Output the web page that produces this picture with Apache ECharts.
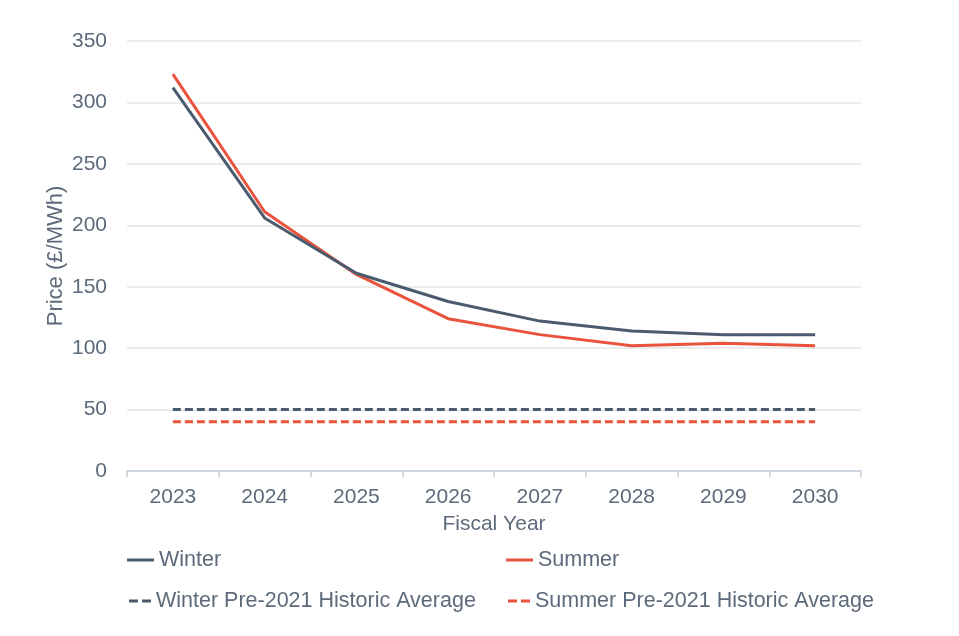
<!DOCTYPE html>
<html>
<head>
<meta charset="utf-8">
<script src="https://cdn.jsdelivr.net/npm/echarts@6/dist/echarts.min.js"></script>
<style>
  html, body { margin: 0; padding: 0; background: #fff; }
  #chart { width: 959px; height: 636px; }
</style>
</head>
<body>
<div id="chart"></div>
<script>
// fiscal years on the x axis
const years = ['2023', '2024', '2025', '2026', '2027', '2028', '2029', '2030'];

// forecast prices, £/MWh
const winter = [312, 206, 161, 138, 122, 114, 111, 111];
const summer = [323, 211, 160, 124, 111, 102, 104, 102];

// pre-2021 historic averages, flat across the years
const winterAvg = [50, 50, 50, 50, 50, 50, 50, 50];
const summerAvg = [40, 40, 40, 40, 40, 40, 40, 40];

const textColor = '#5d6a7b';
const winterColor = '#4b5b6e';
const summerColor = '#e9533d';
const font = 'Liberation Sans, Arial, sans-serif';

const chart = echarts.init(document.getElementById('chart'));

// one legend per item so each sits where it does in the picture
function legendItem(name, left, top, dashed) {
  return {
    data: [name],
    left: left,
    top: top,
    // two short dashes for the average lines, a plain bar otherwise
    icon: dashed ? 'path://M0,0h9v3h-9z M13,0h9v3h-9z' : 'rect',
    itemWidth: dashed ? 22 : 27,
    itemHeight: 3,
    textStyle: { color: textColor, fontSize: 21.5, fontFamily: font }
  };
}

const option = {
  animation: false,
  backgroundColor: '#fff',
  textStyle: { fontFamily: font },
  grid: {
    left: 127,
    right: 98,
    top: 41,
    bottom: 165
  },
  legend: [
    legendItem('Winter', 122, 544, false),
    legendItem('Summer', 501, 544, false),
    legendItem('Winter Pre-2021 Historic Average', 124, 585, true),
    legendItem('Summer Pre-2021 Historic Average', 503, 585, true)
  ],
  xAxis: {
    type: 'category',
    data: years,
    boundaryGap: true,
    name: 'Fiscal Year',
    nameLocation: 'middle',
    nameGap: 43,
    nameMoveOverlap: false,
    nameTextStyle: { color: textColor, fontSize: 21 },
    axisLine: { lineStyle: { color: '#c5cfdb', width: 1.5 } },
    axisTick: { show: true, length: 6, lineStyle: { color: '#c5cfdb', width: 1.5 } },
    axisLabel: { color: textColor, fontSize: 21, margin: 16 },
    splitLine: { show: false }
  },
  yAxis: {
    type: 'value',
    min: 0,
    max: 350,
    interval: 50,
    name: 'Price (£/MWh)',
    nameLocation: 'middle',
    nameGap: 60,
    nameMoveOverlap: false,
    nameTextStyle: { color: textColor, fontSize: 22 },
    axisLine: { show: false },
    axisTick: { show: false },
    axisLabel: { color: textColor, fontSize: 21, margin: 20 },
    splitLine: { lineStyle: { color: '#e4e4e4', width: 1.5 } }
  },
  series: [
    {
      name: 'Winter',
      type: 'line',
      data: winter,
      symbol: 'none',
      z: 4,
      lineStyle: { color: winterColor, width: 3 },
      itemStyle: { color: winterColor }
    },
    {
      name: 'Summer',
      type: 'line',
      data: summer,
      symbol: 'none',
      z: 3,
      lineStyle: { color: summerColor, width: 3 },
      itemStyle: { color: summerColor }
    },
    {
      name: 'Winter Pre-2021 Historic Average',
      type: 'line',
      data: winterAvg,
      symbol: 'none',
      lineStyle: { color: winterColor, width: 3, type: [8, 4] },
      itemStyle: { color: winterColor }
    },
    {
      name: 'Summer Pre-2021 Historic Average',
      type: 'line',
      data: summerAvg,
      symbol: 'none',
      lineStyle: { color: summerColor, width: 3, type: [8, 4] },
      itemStyle: { color: summerColor }
    }
  ]
};

chart.setOption(option);
</script>
</body>
</html>
